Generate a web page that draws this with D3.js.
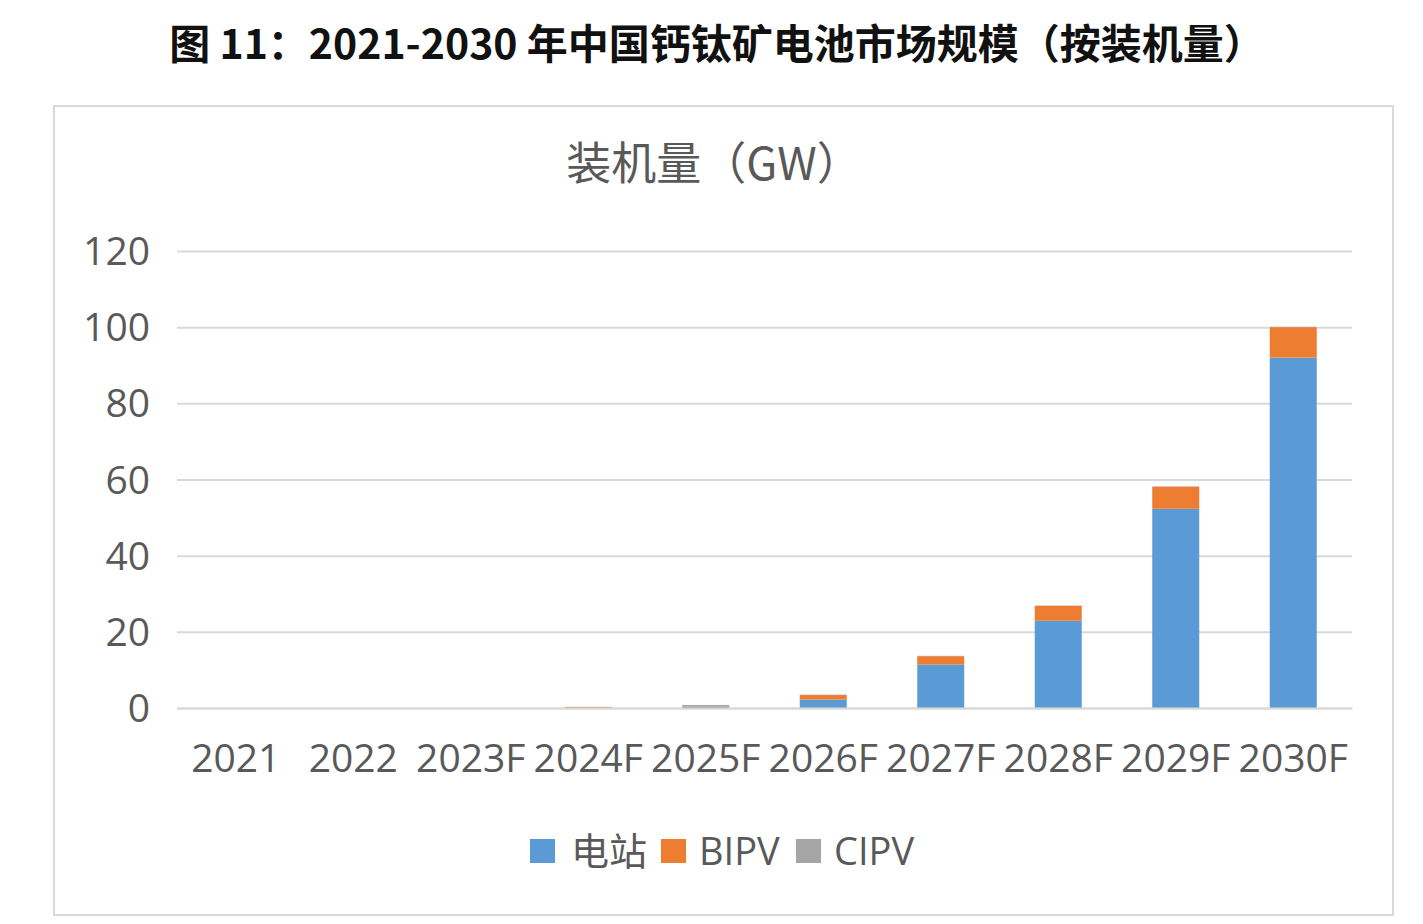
<!DOCTYPE html>
<html><head><meta charset="utf-8">
<script src="https://cdn.jsdelivr.net/npm/d3@7/dist/d3.min.js"></script>
<style>body{margin:0;background:#fff;}svg{display:block;}</style>
</head><body>
<script>
const categories = ["2021","2022","2023F","2024F","2025F","2026F","2027F","2028F","2029F","2030F"];
const seriesNames = ["电站","BIPV","CIPV"];
const station = [0, 0, 0, 0.05, 0.35, 2.2, 11.4, 22.9, 52.3, 92.0];
const bipv    = [0, 0, 0, 0.2, 0.1, 1.2, 2.2, 3.9, 5.8, 8.0];
const cipv    = [0, 0, 0, 0.05, 0.35, 0.1, 0.1, 0.1, 0.1, 0.1];
const yTicks = [0,20,40,60,80,100,120];
const colors = ["#5b9bd5","#ed7d31","#a5a5a5"];

const W=1423,H=924;
const svg=d3.select("body").append("svg").attr("width",W).attr("height",H);
const cjk='"Noto Sans CJK SC","Noto Sans",sans-serif';
const lat='"Open Sans","Noto Sans CJK SC",sans-serif';

svg.append("text").attr("x",717).attr("y",59).attr("text-anchor","middle")
  .attr("font-family",cjk).attr("font-weight","bold").attr("font-size",41).attr("fill","#111")
  .text("图 11：2021-2030 年中国钙钛矿电池市场规模（按装机量）");

svg.append("rect").attr("x",54).attr("y",106).attr("width",1339).attr("height",809)
  .attr("fill","#fff").attr("stroke","#d9d9d9").attr("stroke-width",2);

svg.append("text").attr("x",714).attr("y",180).attr("text-anchor","middle")
  .attr("font-family",cjk).attr("font-size",45).attr("fill","#595959").text("装机量（GW）");

const x=d3.scaleBand().domain(categories).range([177,1352]).paddingInner(0.6).paddingOuter(0.3);
const y=d3.scaleLinear().domain([0,120]).range([708,251]);

const gy=svg.append("g").attr("transform","translate(177,0)")
  .call(d3.axisLeft(y).tickValues(yTicks).tickSize(-(1352-177)).tickPadding(27));
gy.select(".domain").remove();
gy.selectAll(".tick line").attr("stroke","#d9d9d9").attr("stroke-width",2);
gy.selectAll(".tick text").attr("font-family",lat).attr("font-size",39).attr("fill","#595959").attr("dy","0.35em");

const data=categories.map((c,i)=>({cat:c,"电站":station[i],"BIPV":bipv[i],"CIPV":cipv[i]}));
const stack=d3.stack().keys(seriesNames)(data);
svg.append("g").selectAll("g").data(stack).join("g").attr("fill",(d,i)=>colors[i])
  .selectAll("rect").data(d=>d).join("rect")
  .attr("x",d=>x(d.data.cat)).attr("width",x.bandwidth())
  .attr("y",d=>y(d[1])).attr("height",d=>Math.max(0,y(d[0])-y(d[1])));

const gx=svg.append("g").attr("transform","translate(0,708)")
  .call(d3.axisBottom(x).tickSize(0).tickPadding(50));
gx.select(".domain").attr("stroke","#d9d9d9").attr("stroke-width",2);
gx.selectAll(".tick text").attr("font-family",lat).attr("font-size",39).attr("fill","#595959").attr("dy","0.35em");

const legendItems=[{n:"电站",x:530,tx:571},{n:"BIPV",x:661,tx:699},{n:"CIPV",x:796,tx:834}];
const lg=svg.append("g");
legendItems.forEach((d,i)=>{
  lg.append("rect").attr("x",d.x).attr("y",839).attr("width",25).attr("height",24).attr("fill",colors[i]);
  lg.append("text").attr("x",d.tx).attr("y",865).attr("font-family",i===0?cjk:lat).attr("font-size",38).attr("fill","#595959").text(d.n);
});
</script>
</body></html>
